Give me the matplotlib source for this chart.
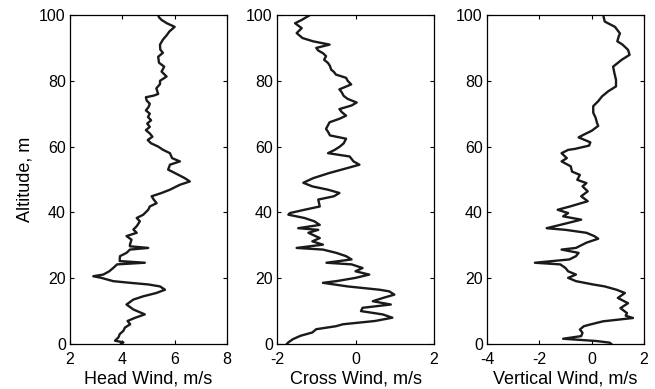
import matplotlib
matplotlib.use("Agg")
import matplotlib.pyplot as plt

plt.rcParams['font.family'] = ['Liberation Sans', 'DejaVu Sans']
plt.rcParams['axes.unicode_minus'] = False

# Head wind profile (altitude m, wind m/s)
head_alt = [0.0, 0.5, 1.0, 2.0, 3.0, 4.0, 5.0, 6.0, 7.0, 8.0, 9.0, 10.5, 12.0, 13.5, 14.5, 15.5, 16.5,
            17.5, 18.1, 18.6, 19.1, 20.1, 20.6, 21.1, 22.1, 23.1, 24.2, 24.7, 25.2, 25.7, 26.7, 27.7,
            28.7, 29.2, 29.7, 30.2, 31.7, 32.8, 33.8, 34.8, 35.8, 37.3, 38.3, 39.3, 40.8, 41.8, 42.8,
            43.9, 44.9, 45.9, 46.9, 48.4, 49.4, 50.4, 52.0, 53.0, 54.5, 55.5, 56.5, 58.0, 59.0, 60.0,
            61.0, 62.0, 63.0, 64.0, 65.0, 66.0, 67.0, 68.0, 69.0, 70.0, 71.0, 72.0, 73.0, 74.0, 75.0,
            75.5, 76.0, 77.7, 79.0, 80.0, 81.3, 82.8, 84.3, 85.5, 87.3, 88.5, 89.5, 91.0, 92.5, 93.8,
            95.0, 96.4, 97.5, 98.5, 99.3, 100.0]
head_wind = [3.95, 4.04, 3.72, 3.85, 3.9, 4.04, 4.1, 4.3, 4.2, 4.5, 4.86, 4.42, 4.16, 4.42, 4.8, 5.3, 5.63,
             5.44, 4.99, 4.29, 3.65, 3.2, 2.89, 3.27, 3.5, 3.65, 3.8, 4.86, 3.9, 3.9, 3.91, 4.16,
             4.29, 4.99, 4.29, 4.29, 4.35, 4.16, 4.55, 4.42, 4.55, 4.67, 4.55, 4.8, 4.99, 5.05, 5.31,
             5.2, 5.12, 5.5, 5.82, 6.2, 6.58, 6.39, 6.0, 5.75, 5.82, 6.2, 5.9, 5.82, 5.56, 5.37,
             5.1, 4.97, 5.15, 5.05, 4.9, 5.05, 4.95, 5.1, 4.98, 5.05, 4.9, 5.0, 5.05, 4.93, 4.9,
             5.2, 5.37, 5.3, 5.44, 5.44, 5.69, 5.5, 5.6, 5.4, 5.37, 5.55, 5.45, 5.44, 5.55, 5.69,
             5.8, 6.0, 5.7, 5.5, 5.4, 5.37]

# Cross wind profile
cross_alt = [0.0, 0.5, 1.5, 2.5, 3.5, 4.5, 5.4, 6.0, 7.0, 8.0, 9.0, 10.0, 11.0, 12.0, 13.0, 14.0, 15.0,
             16.0, 16.5, 17.5, 18.6, 19.1, 20.1, 21.1, 22.1, 23.1, 24.2, 24.7, 25.7, 26.7, 27.7, 28.7,
             29.2, 30.2, 31.2, 32.2, 33.8, 34.7, 35.2, 36.2, 37.3, 38.3, 39.3, 39.8, 40.8, 41.8, 43.9,
             44.9, 45.9, 46.9, 47.9, 49.0, 50.4, 52.0, 53.5, 54.5, 55.5, 57.0, 58.0, 59.0, 60.0, 61.0,
             62.4, 63.4, 64.5, 65.4, 66.5, 67.4, 68.5, 69.4, 70.5, 71.4, 72.5, 73.4, 74.5, 75.4, 76.5,
             77.4, 78.9, 80.0, 80.9, 81.9, 82.7, 83.4, 84.5, 85.4, 86.4, 87.5, 88.4, 89.2, 90.0, 91.0,
             92.0, 93.0, 94.5, 96.0, 97.5, 98.5, 100.0]
cross_wind = [-1.75, -1.71, -1.59, -1.4, -1.1, -1.0, -0.5, -0.32, 0.5, 0.94, 0.69, 0.14, 0.18, 0.9, 0.44, 0.7, 0.99,
              0.86, 0.61, -0.2, -0.83, -0.49, 0.0, 0.35, 0.0, 0.18, -0.1, -0.74, -0.1, -0.24, -0.49, -0.83,
              -1.5, -0.83, -1.1, -0.91, -1.2, -0.95, -1.46, -0.91, -1.05, -1.3, -1.71, -1.67, -1.3, -0.91, -0.95,
              -0.55, -0.41, -0.70, -1.1, -1.33, -1.08, -0.66, -0.2, 0.1, -0.05, -0.15, -0.70, -0.53, -0.4, -0.3,
              -0.24, -0.65, -0.7, -0.75, -0.7, -0.66, -0.4, -0.24, -0.35, -0.41, -0.1, 0.03, -0.2, -0.3, -0.35,
              -0.41, -0.11, -0.2, -0.24, -0.5, -0.55, -0.62, -0.65, -0.70, -0.8, -0.75, -0.83, -0.95, -1.0, -0.66,
              -1.08, -1.35, -1.5, -1.37, -1.54, -1.37, -1.16]

# Vertical wind profile
vert_alt = [0.0, 0.4, 0.9, 1.6, 2.4, 3.4, 4.4, 5.4, 5.9, 6.9, 7.9, 8.6, 9.4, 10.9, 12.4, 14.0, 15.5,
            16.5, 17.5, 18.1, 19.1, 20.1, 21.1, 22.1, 23.1, 24.2, 24.7, 25.7, 26.7, 27.7, 28.7, 29.2,
            30.8, 32.0, 32.8, 33.8, 34.7, 35.2, 36.7, 37.8, 38.8, 39.8, 40.8, 41.8, 43.4, 44.9, 46.4,
            47.9, 48.9, 49.9, 51.4, 52.4, 54.0, 55.5, 56.5, 58.0, 59.0, 59.3, 60.3, 61.3, 62.8, 63.8,
            64.8, 66.3, 67.3, 68.8, 70.3, 72.3, 73.8, 75.3, 76.8, 78.3, 80.3, 82.3, 84.3, 86.4, 87.9,
            89.4, 91.0, 92.0, 93.4, 94.4, 96.4, 98.0, 100.0]
vert_wind = [0.75, 0.69, 0.19, -1.09, -0.4, -0.35, -0.45, -0.3, -0.07, 0.44, 1.58, 1.3, 1.35, 1.1, 1.39, 1.0, 1.27,
             0.95, 0.5, 0.05, -0.6, -0.9, -0.6, -0.9, -1.0, -1.2, -2.17, -0.85, -0.6, -0.5, -1.15, -0.6,
             -0.2, 0.25, 0.1, -0.2, -1.0, -1.72, -0.95, -0.4, -1.09, -0.9, -1.3, -0.83, -0.15, -0.4, -0.15,
             -0.35, -0.2, -0.55, -0.45, -0.75, -0.8, -1.15, -0.95, -1.15, -0.9, -0.64, -0.1, -0.05, -0.5, -0.26,
             0.0, 0.25, 0.2, 0.15, 0.06, 0.06, 0.25, 0.4, 0.63, 0.93, 0.93, 0.87, 0.82, 1.15, 1.45,
             1.39, 1.18, 0.98, 1.03, 1.08, 0.89, 0.5, 0.44]

xlabels = ["Head Wind, m/s", "Cross Wind, m/s", "Vertical Wind, m/s"]
xlims = [(2, 8), (-2, 2), (-4, 2)]
xticks = [[2, 4, 6, 8], [-2, 0, 2], [-4, -2, 0, 2]]
yticks = [0, 20, 40, 60, 80, 100]

fig = plt.figure(figsize=(6.55, 3.89), dpi=100)
lefts = [70 / 655, 277 / 655, 487 / 655]
w = 157 / 655
b = 1 - 344 / 389
h = (344 - 15) / 389

series = [(head_wind, head_alt), (cross_wind, cross_alt), (vert_wind, vert_alt)]
for i, (xv, yv) in enumerate(series):
    ax = fig.add_axes([lefts[i], b, w, h])
    ax.plot(xv, yv, color='#1a1a1a', lw=1.7, solid_joinstyle='round')
    ax.set_xlim(*xlims[i])
    ax.set_ylim(0, 100)
    ax.set_xticks(xticks[i])
    ax.set_yticks(yticks)
    ax.tick_params(axis='both', direction='in', top=True, right=True, length=3,
                   labelsize=11.5, width=0.8)
    ax.tick_params(axis='x', pad=6)
    ax.tick_params(axis='y', pad=3)
    ax.set_xlabel(xlabels[i], fontsize=13, labelpad=2)
    for s in ax.spines.values():
        s.set_linewidth(0.9)
    if i == 0:
        ax.set_ylabel("Altitude, m", fontsize=13, labelpad=4)

fig.savefig("out.png", dpi=100)
